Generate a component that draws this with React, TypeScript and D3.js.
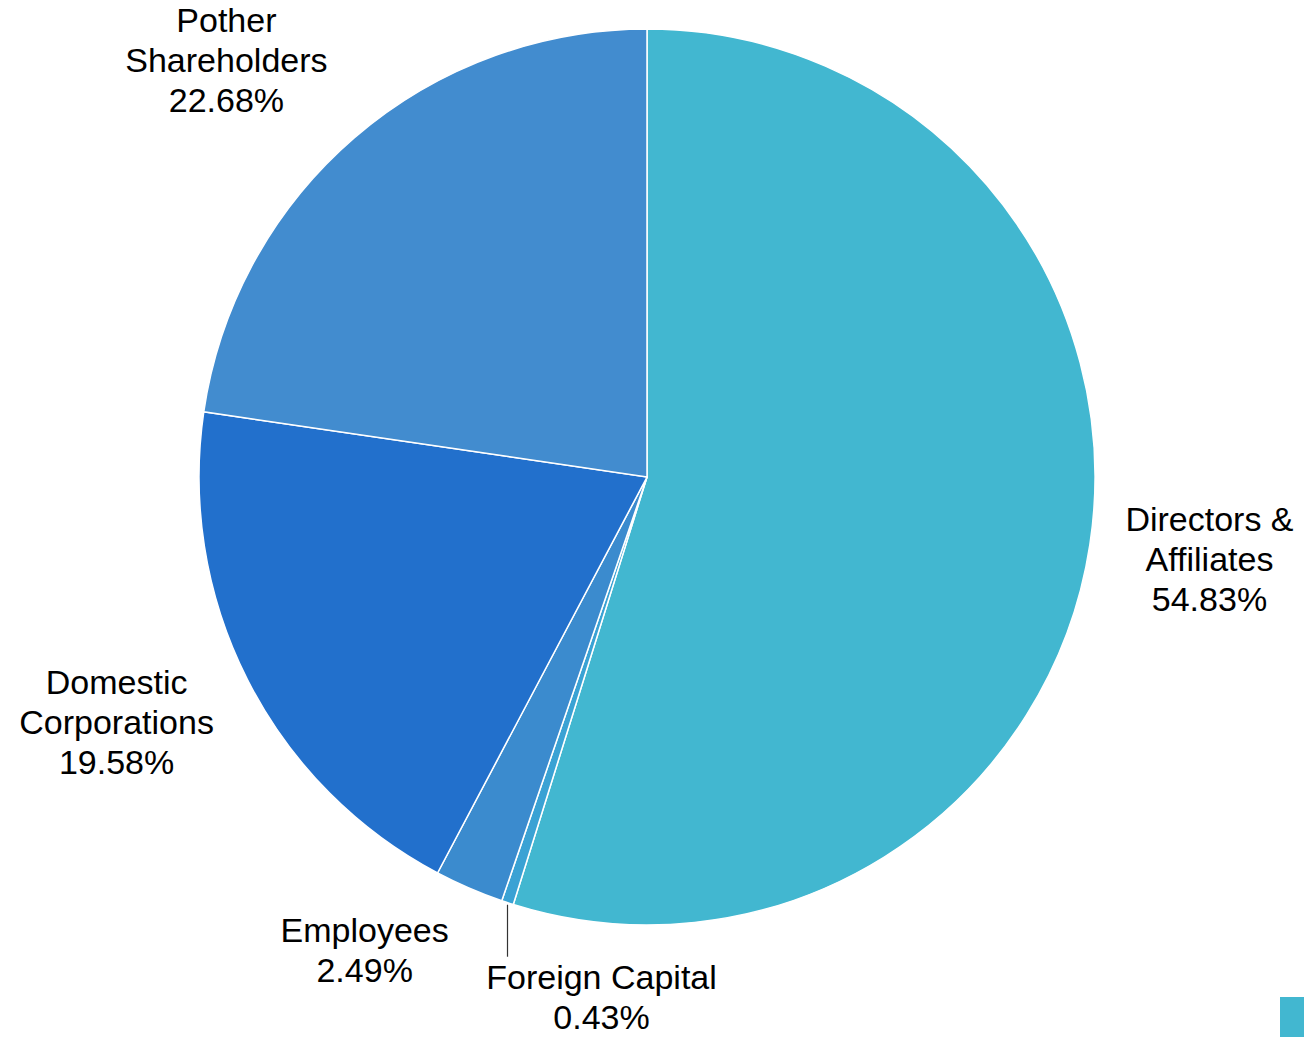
import React, { useEffect, useRef } from "react";
import * as d3 from "d3";

const categories = [
  "Directors & Affiliates",
  "Foreign Capital",
  "Employees",
  "Domestic Corporations",
  "Pother Shareholders",
];
const values = [54.83, 0.43, 2.49, 19.58, 22.68];
const labelLines = [
  ["Directors &", "Affiliates"],
  ["Foreign Capital"],
  ["Employees"],
  ["Domestic", "Corporations"],
  ["Pother", "Shareholders"],
];
const colors = ["#42B7D0", "#3AA2D4", "#3B8BCE", "#2270CC", "#428CCF"];
// small nudges so labels don't collide (layout only)
const labelNudge = [
  [-1, -4],
  [132, -22],
  [-56, -50],
  [-22, -13],
  [-48, 14],
];

const App = () => {
  const ref = useRef<SVGSVGElement | null>(null);

  useEffect(() => {
    const width = 1304;
    const height = 1037;
    const cx = 647;
    const cy = 477;
    const radius = 448;
    const labelRadius = 570;

    const svg = d3.select(ref.current);
    svg.selectAll("*").remove();
    svg.attr("width", width).attr("height", height);

    const data = categories.map((name, i) => ({ name, value: values[i], i }));

    const pie = d3
      .pie<any>()
      .value((d) => d.value)
      .sort(null);
    const arcs = pie(data);
    const arc = d3.arc<any>().innerRadius(0).outerRadius(radius);

    const g = svg.append("g").attr("transform", `translate(${cx},${cy})`);

    g.selectAll("path")
      .data(arcs)
      .enter()
      .append("path")
      .attr("d", arc)
      .attr("fill", (d) => colors[d.data.i])
      .attr("stroke", "#fff")
      .attr("stroke-width", 1.5);

    const fontSize = 34;
    const lineH = 40;

    arcs.forEach((a) => {
      const i = a.data.i;
      const mid = (a.startAngle + a.endAngle) / 2;
      const lx = Math.sin(mid) * labelRadius + labelNudge[i][0];
      const ly = -Math.cos(mid) * labelRadius + labelNudge[i][1];
      const lines = [...labelLines[i], `${values[i].toFixed(2)}%`];
      const top = ly - ((lines.length - 1) * lineH) / 2;

      const t = g
        .append("text")
        .attr("text-anchor", "middle")
        .attr("font-family", "'Liberation Sans', Arial, sans-serif")
        .attr("font-size", fontSize)
        .attr("fill", "#000");
      lines.forEach((ln, k) => {
        t.append("tspan")
          .attr("x", lx)
          .attr("y", top + k * lineH)
          .attr("dy", "0.35em")
          .text(ln);
      });

      // leader line for the thin slice
      if (values[i] < 1) {
        const px = Math.sin(mid) * radius;
        const py = -Math.cos(mid) * radius;
        g.append("line")
          .attr("x1", px)
          .attr("y1", py + 2)
          .attr("x2", px)
          .attr("y2", py + 54)
          .attr("stroke", "#333")
          .attr("stroke-width", 1.2);
      }
    });

    // legend swatch clipped at the corner
    svg
      .append("rect")
      .attr("x", 1280)
      .attr("y", 997)
      .attr("width", 30)
      .attr("height", 40)
      .attr("fill", colors[0]);
  }, []);

  return (
    <svg
      ref={ref}
      style={{ position: "absolute", left: 0, top: 0, display: "block" }}
    />
  );
};

export default App;
